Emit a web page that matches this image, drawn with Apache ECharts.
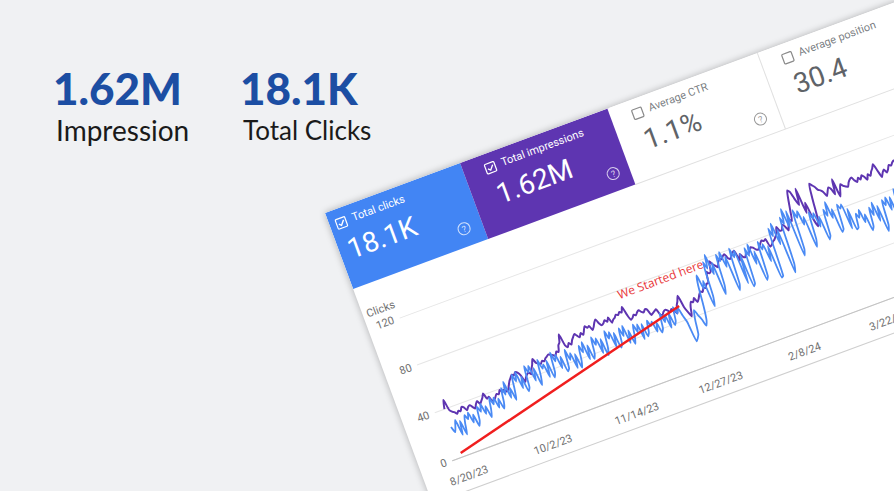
<!DOCTYPE html>
<html><head><meta charset="utf-8">
<script src="https://cdn.jsdelivr.net/npm/echarts@6/dist/echarts.min.js"></script>
<style>
html,body{margin:0;padding:0;width:894px;height:491px;overflow:hidden;background:#f0f1f3}
#bg{position:absolute;left:0;top:0;width:894px;height:491px}
#card{position:absolute;left:325px;top:213px;width:720px;height:540px;transform-origin:0 0;transform:rotate(-20.3deg);background:#fff;box-shadow:0 0 7px rgba(0,0,0,.28)}
</style></head>
<body><div id="bg"></div><div id="card"></div>
<script>
// ---- data ----
const tickLabels = ['8/20/23','10/2/23','11/14/23','12/27/23','2/8/24','3/22/24'];
const firstDataDate = '8/20/23';
const leadDays = 5;          // empty days shown before the first data point
const totalDays = 258;       // categories on the axis (8/15/23 .. 4/28/24)
const tileLabels = ['Total clicks','Total impressions','Average CTR','Average position'];
const tileValues = ['18.1K','1.62M','1.1%','30.4'];
const headline = [['1.62M','Impression'],['18.1K','Total Clicks']];
const arrowFrom = ['8/20/23', 3];
const arrowTo = ['12/21/23', 52];
const notePoint = ['12/17/23', 77];
const noteText = 'We Started here';

// daily clicks from 8/20/23
const clicks = [
 25,20,24,29,16,27,15, 24,30,26,31,22,28,18, 22,33,28,34,25,31,21, 27,36,30,35,26,33,24,
 29,40,34,44,30,38,27, 36,47,41,48,34,43,30, 33,50,44,49,36,46,31, 38,51,43,46,35,48,33,
 37,53,45,50,38,47,34, 36,51,42,47,34,45,33, 39,50,44,52,37,48,36, 40,53,46,51,38,49,35,
 41,54,47,52,39,50,37, 40,52,45,53,38,48,36, 42,51,44,50,37,49,38, 41,50,45,48,39,46,37,
 40,52,44,49,38,50,39, 42,53,47,51,44,38,21, 23,26,38,45,40,36,30, 34,45,62,70,58,64,42,
 50,78,72,83,66,75,48, 55,80,74,81,68,76,47, 52,81,73,78,50,74,46, 48,77,70,79,62,72,47,
 50,78,71,75,60,72,45, 46,85,78,88,70,82,45, 52,90,84,96,80,93,55, 60,92,85,90,78,84,58,
 64,86,80,84,72,80,60, 63,84,78,89,75,82,62, 64,84,80,83,62,78,60, 61,72,68,74,63,69,55,
 58,73,66,76,60,72,50, 55,75,70,76,65,75,58, 62,80,74,82,68,78,60, 63,84,76,85
];
// daily impressions (drawn on the same visible scale)
const impressions = [
 40,47,38,36,35,33,35, 34,37,36,33,35,36,34, 32,35,37,34,36,38,41, 36,37,33,33,35,37,36,
 39,37,38,36,37,40,43, 45,47,46,48,47,44,38, 41,43,44,42,46,49,53, 49,48,47,49,48,50,51,
 52,51,50,49,52,51,56, 58,64,54,52,55,53,56, 58,60,58,56,59,57,60, 63,61,62,58,60,63,65,
 61,59,60,62,60,63,58, 60,61,63,62,64,63,67, 60,55,56,58,57,59,60, 58,57,59,58,53,54,55,
 56,51,50,52,53,52,50, 52,50,47,53,56,60,50, 45,41,48,52,51,54,50, 52,55,57,56,59,58,61,
 61,70,68,69,77,74,72, 70,74,76,75,77,78,74, 73,75,77,78,69,74,71, 70,73,72,74,76,75,73,
 72,74,76,78,77,78,71, 72,74,75,77,79,84,80, 80,84,82,78,83,86,84, 92,101,108,106,99,94,107,
 86,94,80,73,78,95,107, 105,103,100,99,97,93,96, 99,97,92,104,89,94,98, 96,95,94,97,99,100,97,
 95,98,96,99,97,94,98, 96,99,101,104,98,92,95, 97,94,96,99,98,100,101, 99,102,100,98
];

// ---- daily category labels ----
const dates = [];
for (let i = 0; i < totalDays; i++) {
  const d = new Date(Date.UTC(2023, 7, 20 - leadDays + i));
  dates.push((d.getUTCMonth()+1) + '/' + d.getUTCDate() + '/' + String(d.getUTCFullYear()).slice(2));
}
const off = dates.indexOf(firstDataDate);
const clickData = clicks.map((v,i)=>[dates[off+i], v]);
const imprData = impressions.map((v,i)=>[dates[off+i], v]);

// ---- background headline ----
const bg = echarts.init(document.getElementById('bg'), null, {renderer:'svg', width:894, height:491});
const hl = [];
const hx = [53, 240], subSize = [28, 26];
headline.forEach((h, k) => {
  hl.push({type:'text', style:{text:h[0], x:hx[k], y:88, textVerticalAlign:'middle', fill:'#1c4ea3',
    font:'900 44px Lato, "DejaVu Sans", sans-serif'}});
  hl.push({type:'text', style:{text:h[1], x:hx[k]+3, y:130, textVerticalAlign:'middle', fill:'#1a1a1a',
    font:'400 '+subSize[k]+'px Lato, "DejaVu Sans", sans-serif'}});
});
bg.setOption({animation:false, graphic:hl});

// ---- rotated Search Console card ----
const card = echarts.init(document.getElementById('card'), null, {renderer:'svg', width:720, height:540});
const tileLeft = [-15, 144, 301, 461], tileW = 159, tileH = 81;
const tileFill = ['#4285f4', '#5e35b1', '#ffffff', '#ffffff'];
const g = [];
tileLeft.forEach((x0, k) => {
  const colored = k < 2;
  const fg = colored ? '#ffffff' : '#6b6f73';
  const cx = x0 + 27, cy = 15;
  g.push({type:'rect', shape:{x:Math.max(0,x0), y:0, width:tileW - (x0<0?-x0:0), height:tileH}, style:{fill:tileFill[k]}});
  g.push({type:'rect', shape:{x:cx-5, y:cy-5, width:10, height:10, r:1}, style:{fill:'none', stroke:colored?'#fff':'#8a8a8a', lineWidth:1.2}});
  if (colored) g.push({type:'polyline', shape:{points:[[cx-2.8,cy+0.2],[cx-0.7,cy+2.3],[cx+3,cy-2.2]]}, style:{fill:'none', stroke:'#fff', lineWidth:1.4}});
  g.push({type:'text', style:{text:tileLabels[k], x:cx+12, y:cy-1, textVerticalAlign:'middle', fill:fg, opacity:colored?1:0.9,
    font:'400 11px Roboto, sans-serif'}});
  g.push({type:'text', style:{text:tileValues[k], x:x0+24, y:43, textVerticalAlign:'middle', fill:colored?'#fff':'#5f6368',
    font:'400 28px Roboto, sans-serif'}});
  const hx2 = x0 + 140, hy = 63;
  g.push({type:'circle', shape:{cx:hx2, cy:hy, r:6}, style:{fill:'none', stroke:colored?'rgba(255,255,255,0.75)':'#9a9a9a', lineWidth:1}});
  g.push({type:'text', style:{text:'?', x:hx2, y:hy+0.5, textAlign:'center', textVerticalAlign:'middle', fill:colored?'rgba(255,255,255,0.8)':'#9a9a9a', font:'400 9px Roboto, sans-serif'}});
});
g.push({type:'line', shape:{x1:461, y1:0, x2:461, y2:tileH}, style:{stroke:'#e0e0e0', lineWidth:1}});
g.push({type:'line', shape:{x1:620, y1:0, x2:620, y2:tileH}, style:{stroke:'#e0e0e0', lineWidth:1}});
g.push({type:'line', shape:{x1:301, y1:tileH, x2:720, y2:tileH}, style:{stroke:'#e0e0e0', lineWidth:1}});
g.push({type:'line', shape:{x1:28, y1:310, x2:720, y2:310}, style:{stroke:'#cfcfcf', lineWidth:1}});

card.setOption({
  animation:false,
  grid:{left:33.6, top:124, width:534.6, height:152},
  xAxis:{type:'category', data:dates, boundaryGap:false,
    axisLine:{lineStyle:{color:'#c2c2c2'}}, axisTick:{show:false},
    axisLabel:{interval:(i, v) => tickLabels.includes(v), color:'#707070', fontSize:11, fontFamily:'Roboto', margin:15},
    splitLine:{show:false}},
  yAxis:{type:'value', min:0, max:120, interval:40, name:'Clicks', nameLocation:'end', nameGap:9,
    nameTextStyle:{color:'#707070', fontSize:11, fontFamily:'Roboto', align:'right'},
    axisLabel:{color:'#707070', fontSize:11, fontFamily:'Roboto', margin:6},
    axisLine:{show:false}, axisTick:{show:false},
    splitLine:{lineStyle:{color:'#e6e6e6'}}},
  series:[
    {name:'Total impressions', type:'line', data:imprData, symbol:'none', smooth:0.2,
      lineStyle:{color:'#5e35b1', width:2}, itemStyle:{color:'#5e35b1'}},
    {name:'Total clicks', type:'line', data:clickData, symbol:'none', smooth:0.2,
      lineStyle:{color:'#4a8af4', width:1.8}, itemStyle:{color:'#4a8af4'},
      markLine:{silent:true, symbol:['none','arrow'], symbolSize:[1,12],
        label:{show:false}, lineStyle:{color:'#f01e1e', width:2.5, type:'solid'},
        data:[[{coord:arrowFrom},{coord:arrowTo}]]},
      markPoint:{silent:true, symbol:'circle', symbolSize:0,
        label:{show:true, formatter:noteText, color:'#e8383a', fontSize:12, fontFamily:'"Open Sans", sans-serif', position:'inside'},
        data:[{coord:notePoint}]}}
  ],
  graphic:g
});
</script>
</body></html>
